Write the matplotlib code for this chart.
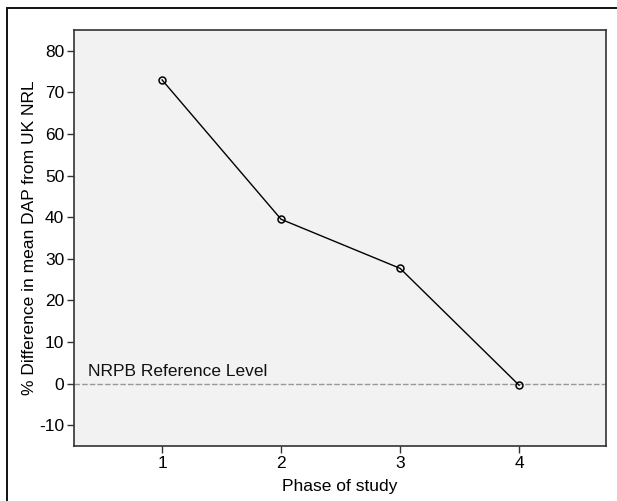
import matplotlib.pyplot as plt
from matplotlib.patches import Rectangle

plt.rcParams['font.family'] = ['Liberation Sans', 'DejaVu Sans']
plt.rcParams['axes.unicode_minus'] = False

phase = [1, 2, 3, 4]
pct_diff = [73.0, 39.5, 27.7, -0.4]
ref_level = 0
ref_label = "NRPB Reference Level"

W, H = 617, 501
fig = plt.figure(figsize=(W / 100, H / 100), dpi=100)
ax = fig.add_axes([74 / W, 1 - 446 / H, (606 - 74) / W, (446 - 30) / H])
ax.set_facecolor('#f2f2f2')

# outer frame (only top and left show in the crop)
fig.patches.append(Rectangle((7 / W, -0.1), 1.2, 1 - 8 / H + 0.1, transform=fig.transFigure,
                             fill=False, edgecolor='#111111', linewidth=1.4, zorder=0))

ax.axhline(ref_level, color='#999999', linestyle=(0, (4, 1.5)), linewidth=1.0, zorder=1)
ax.text(0.38, ref_level + 1.0, ref_label, fontsize=12.5, color='#111111', va='bottom', ha='left')

ax.plot(phase, pct_diff, color='black', linewidth=1.0, marker='o', markersize=5,
        markerfacecolor='none', markeredgecolor='black', markeredgewidth=1.1, zorder=3)

ax.set_xlim(0.26, 4.73)
ax.set_ylim(-15, 85)
ax.set_xticks(phase)
ax.set_yticks(range(-10, 90, 10))
ax.tick_params(direction='out', length=5, width=1, labelsize=12.5, color='#333333', pad=2)
for s in ax.spines.values():
    s.set_color('#333333')
    s.set_linewidth(1.2)

ax.set_xlabel("Phase of study", fontsize=12.5)
ax.set_ylabel("% Difference in mean DAP from UK NRL", fontsize=12.5)
ax.xaxis.set_label_coords(0.5, -(487 - 446) / 416)
ax.yaxis.set_label_coords((30 - 74) / 532, 0.5)
ax.xaxis.label.set_va('center')
ax.yaxis.label.set_va('center')

fig.savefig("out.png", dpi=100)
